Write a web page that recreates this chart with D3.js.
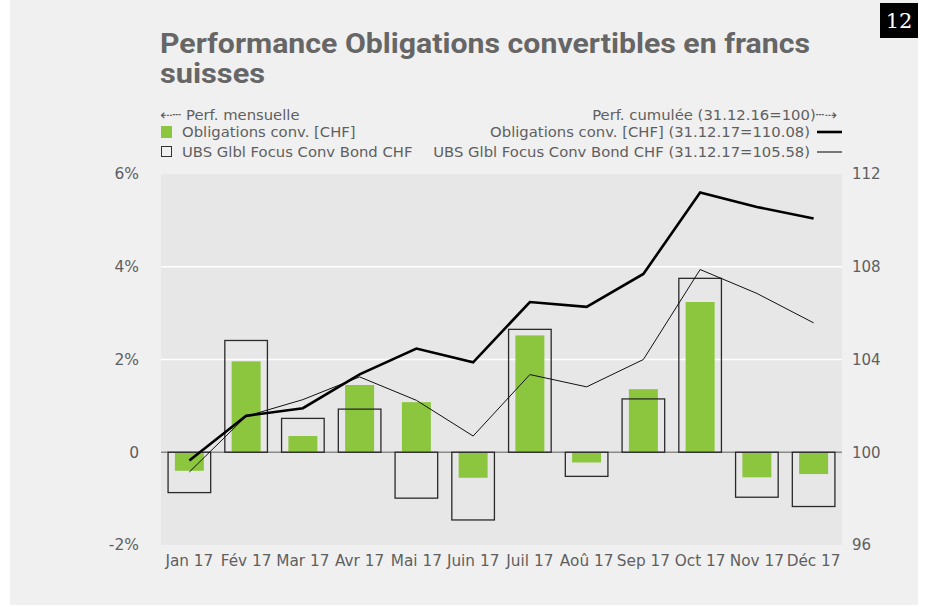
<!DOCTYPE html>
<html>
<head>
<meta charset="utf-8">
<title>Performance Obligations convertibles en francs suisses</title>
<style>
    body { margin:0; background:#ffffff; }
    svg text { font-family:"DejaVu Sans", Verdana, sans-serif; fill:#5f5f5f; }
    .title { font-family:Roboto, "Open Sans", sans-serif; font-weight:bold; font-size:28px; fill:#666666; }
    .grid line { stroke:#ffffff; stroke-width:1.5; }
    .box { fill:none; stroke:#2a2a2a; stroke-width:1.3; }
    .bar { fill:#8cc63f; }
</style>
</head>
<body>
<script src="https://cdn.jsdelivr.net/npm/d3@7"></script>
<script>

// data
var months = ["Jan 17","Fév 17","Mar 17","Avr 17","Mai 17","Juin 17","Juil 17","Aoû 17","Sep 17","Oct 17","Nov 17","Déc 17"];
var monthlyConv = [-0.40, 1.96, 0.35, 1.45, 1.08, -0.55, 2.52, -0.22, 1.36, 3.24, -0.54, -0.47];
var monthlyUBS  = [-0.87, 2.41, 0.73, 0.93, -0.99, -1.46, 2.65, -0.52, 1.15, 3.75, -0.97, -1.17];
var cumConv = [99.64, 101.57, 101.90, 103.36, 104.47, 103.88, 106.48, 106.27, 107.69, 111.20, 110.58, 110.08];
var cumUBS  = [99.15, 101.55, 102.27, 103.25, 102.24, 100.70, 103.35, 102.82, 104.00, 107.88, 106.85, 105.58];
var leftTicks = [-2, 0, 2, 4, 6];
var rightTicks = [96, 100, 104, 108, 112];

var W = 925, H = 607;
var x0 = 161, x1 = 842, yTop = 174, yBot = 545;

var svg = d3.select("body").append("svg")
    .attr("width", W)
    .attr("height", H);

// panel background
svg.append("rect").attr("x", 10).attr("y", 0).attr("width", 908).attr("height", 605).attr("fill", "#f0f0f0");

// page number
svg.append("rect").attr("x", 880).attr("y", 3).attr("width", 38).attr("height", 35).attr("fill", "#000");
svg.append("text").attr("x", 899).attr("y", 28).attr("text-anchor", "middle")
    .style("font-family", "'DejaVu Serif', 'Liberation Serif', serif").style("font-size", "21px").style("fill", "#fff")
    .text("12");

// title
svg.append("text").attr("class", "title").attr("x", 160).attr("y", 53)
    .attr("textLength", 650).attr("lengthAdjust", "spacingAndGlyphs")
    .text("Performance Obligations convertibles en francs");
svg.append("text").attr("class", "title").attr("x", 160).attr("y", 83)
    .attr("textLength", 105).attr("lengthAdjust", "spacingAndGlyphs")
    .text("suisses");

// scales
var x = d3.scaleBand().domain(months).range([x0, x1]);
var yL = d3.scaleLinear().domain([-2, 6]).range([yBot, yTop]);
var yR = d3.scaleLinear().domain([96, 112]).range([yBot, yTop]);

// plot background
svg.append("rect").attr("x", x0).attr("y", yTop).attr("width", x1 - x0).attr("height", yBot - yTop).attr("fill", "#e7e7e7");

// gridlines
svg.append("g").attr("class", "grid").selectAll("line")
    .data([2, 4]).enter().append("line")
    .attr("x1", x0).attr("x2", x1)
    .attr("y1", function(d) { return yL(d); })
    .attr("y2", function(d) { return yL(d); });

// left axis
var axL = svg.append("g").attr("transform", "translate(" + (x0 - 22) + ",0)")
    .call(d3.axisLeft(yL).tickValues(leftTicks).tickSize(0).tickPadding(0)
        .tickFormat(function(d) { return d === 0 ? "0" : d + "%"; }));
axL.select(".domain").remove();
axL.selectAll("text").style("font-size", "15.5px").style("fill", "#5f5f5f")
    .style("font-family", "'DejaVu Sans', Verdana, sans-serif");

// right axis
var axR = svg.append("g").attr("transform", "translate(" + (x1 + 10) + ",0)")
    .call(d3.axisRight(yR).tickValues(rightTicks).tickSize(0).tickPadding(0));
axR.select(".domain").remove();
axR.selectAll("text").style("font-size", "15px").style("fill", "#5f5f5f")
    .style("font-family", "'DejaVu Sans', Verdana, sans-serif");

// x axis labels
var axX = svg.append("g").attr("transform", "translate(0," + (yBot + 10) + ")")
    .call(d3.axisBottom(x).tickSize(0).tickPadding(0));
axX.select(".domain").remove();
axX.selectAll("text").style("font-size", "15.3px").style("fill", "#5f5f5f")
    .style("font-family", "'DejaVu Sans', Verdana, sans-serif");

var bw = x.bandwidth();

// green bars (Obligations conv.)
svg.selectAll(".bar").data(monthlyConv).enter().append("rect")
    .attr("class", "bar")
    .attr("x", function(d, i) { return x(months[i]) + bw / 2 - 14.5; })
    .attr("width", 29)
    .attr("y", function(d) { return yL(Math.max(0, d)); })
    .attr("height", function(d) { return Math.abs(yL(d) - yL(0)); });

// zero line
svg.append("line").attr("x1", x0).attr("x2", x1).attr("y1", yL(0)).attr("y2", yL(0))
    .attr("stroke", "#8a8a8a").attr("stroke-width", 1.5);

// outline boxes (UBS)
svg.selectAll(".box").data(monthlyUBS).enter().append("rect")
    .attr("class", "box")
    .attr("x", function(d, i) { return x(months[i]) + bw / 2 - 21.3; })
    .attr("width", 42.6)
    .attr("y", function(d) { return yL(Math.max(0, d)); })
    .attr("height", function(d) { return Math.abs(yL(d) - yL(0)); });

// cumulative lines
var line = d3.line()
    .x(function(d, i) { return x(months[i]) + bw / 2; })
    .y(function(d) { return yR(d); });

svg.append("path").datum(cumUBS).attr("d", line)
    .attr("fill", "none").attr("stroke", "#111").attr("stroke-width", 1);
svg.append("path").datum(cumConv).attr("d", line)
    .attr("fill", "none").attr("stroke", "#000").attr("stroke-width", 2.6);

// legend
var lg = svg.append("g").style("font-size", "14.8px");
lg.append("text").attr("x", 160).attr("y", 120).text("⇠┄ Perf. mensuelle");
lg.append("rect").attr("x", 161).attr("y", 126).attr("width", 11).attr("height", 12).attr("fill", "#8cc63f");
lg.append("text").attr("x", 182).attr("y", 137).text("Obligations conv. [CHF]");
lg.append("rect").attr("x", 161.5).attr("y", 146.5).attr("width", 10).attr("height", 10)
    .attr("fill", "none").attr("stroke", "#333").attr("stroke-width", 1);
lg.append("text").attr("x", 182).attr("y", 157).text("UBS Glbl Focus Conv Bond CHF");

lg.append("text").attr("x", 837).attr("y", 120).attr("text-anchor", "end").text("Perf. cumulée (31.12.16=100)┄⇢");
lg.append("text").attr("x", 810).attr("y", 137).attr("text-anchor", "end").text("Obligations conv. [CHF] (31.12.17=110.08)");
lg.append("line").attr("x1", 817).attr("x2", 842).attr("y1", 132).attr("y2", 132).attr("stroke", "#000").attr("stroke-width", 2.6);
lg.append("text").attr("x", 810).attr("y", 157).attr("text-anchor", "end").text("UBS Glbl Focus Conv Bond CHF (31.12.17=105.58)");
lg.append("line").attr("x1", 817).attr("x2", 842).attr("y1", 152).attr("y2", 152).attr("stroke", "#000").attr("stroke-width", 1);

</script>
</body>
</html>
